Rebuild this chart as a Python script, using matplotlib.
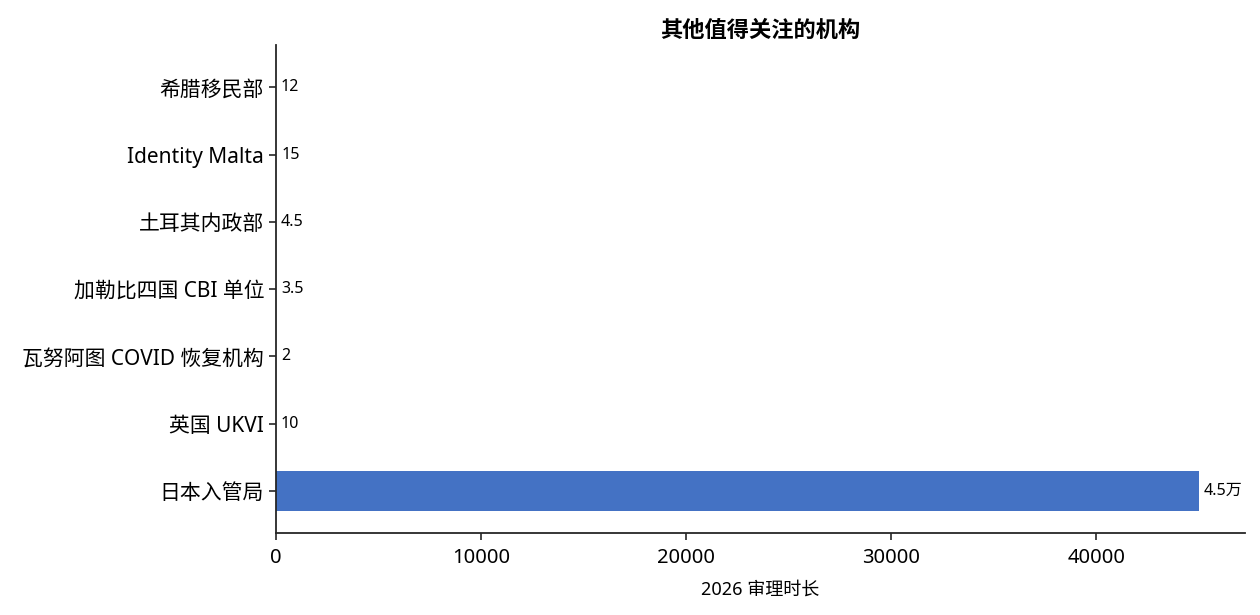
import matplotlib
matplotlib.use("Agg")
import matplotlib.pyplot as plt

plt.rcParams['font.family'] = ['Noto Sans', 'Noto Sans CJK SC', 'DejaVu Sans']

agencies = ["日本入管局", "英国 UKVI", "瓦努阿图 COVID 恢复机构", "加勒比四国 CBI 单位",
            "土耳其内政部", "Identity Malta", "希腊移民部"]
durations = [45000, 10, 2, 3.5, 4.5, 15, 12]
value_labels = ["4.5万", "10", "2", "3.5", "4.5", "15", "12"]

fig, ax = plt.subplots(figsize=(12.6, 6.15), dpi=100)
bars = ax.barh(agencies, durations, height=0.6, color="#4472C4")

xmax = max(durations) * 1.05
ax.set_xlim(0, xmax)
for bar, lab in zip(bars, value_labels):
    ax.text(bar.get_width() + xmax * 0.005, bar.get_y() + bar.get_height() / 2, lab,
            va="center", ha="left", fontsize=11.5)

ax.set_title("其他值得关注的机构", fontsize=16, fontweight="bold")
ax.set_xlabel("2026 审理时长", fontsize=13, labelpad=9)
ax.tick_params(axis="y", labelsize=15, length=5, width=1.2, color="#262626")
ax.tick_params(axis="x", labelsize=14.5, length=5, width=1.2, pad=6, color="#262626")
for side in ["top", "right"]:
    ax.spines[side].set_visible(False)
for side in ["left", "bottom"]:
    ax.spines[side].set_linewidth(1.3)
    ax.spines[side].set_color("#262626")

fig.subplots_adjust(left=0.219, right=0.988, top=0.927, bottom=0.133)
fig.savefig("out.png")
